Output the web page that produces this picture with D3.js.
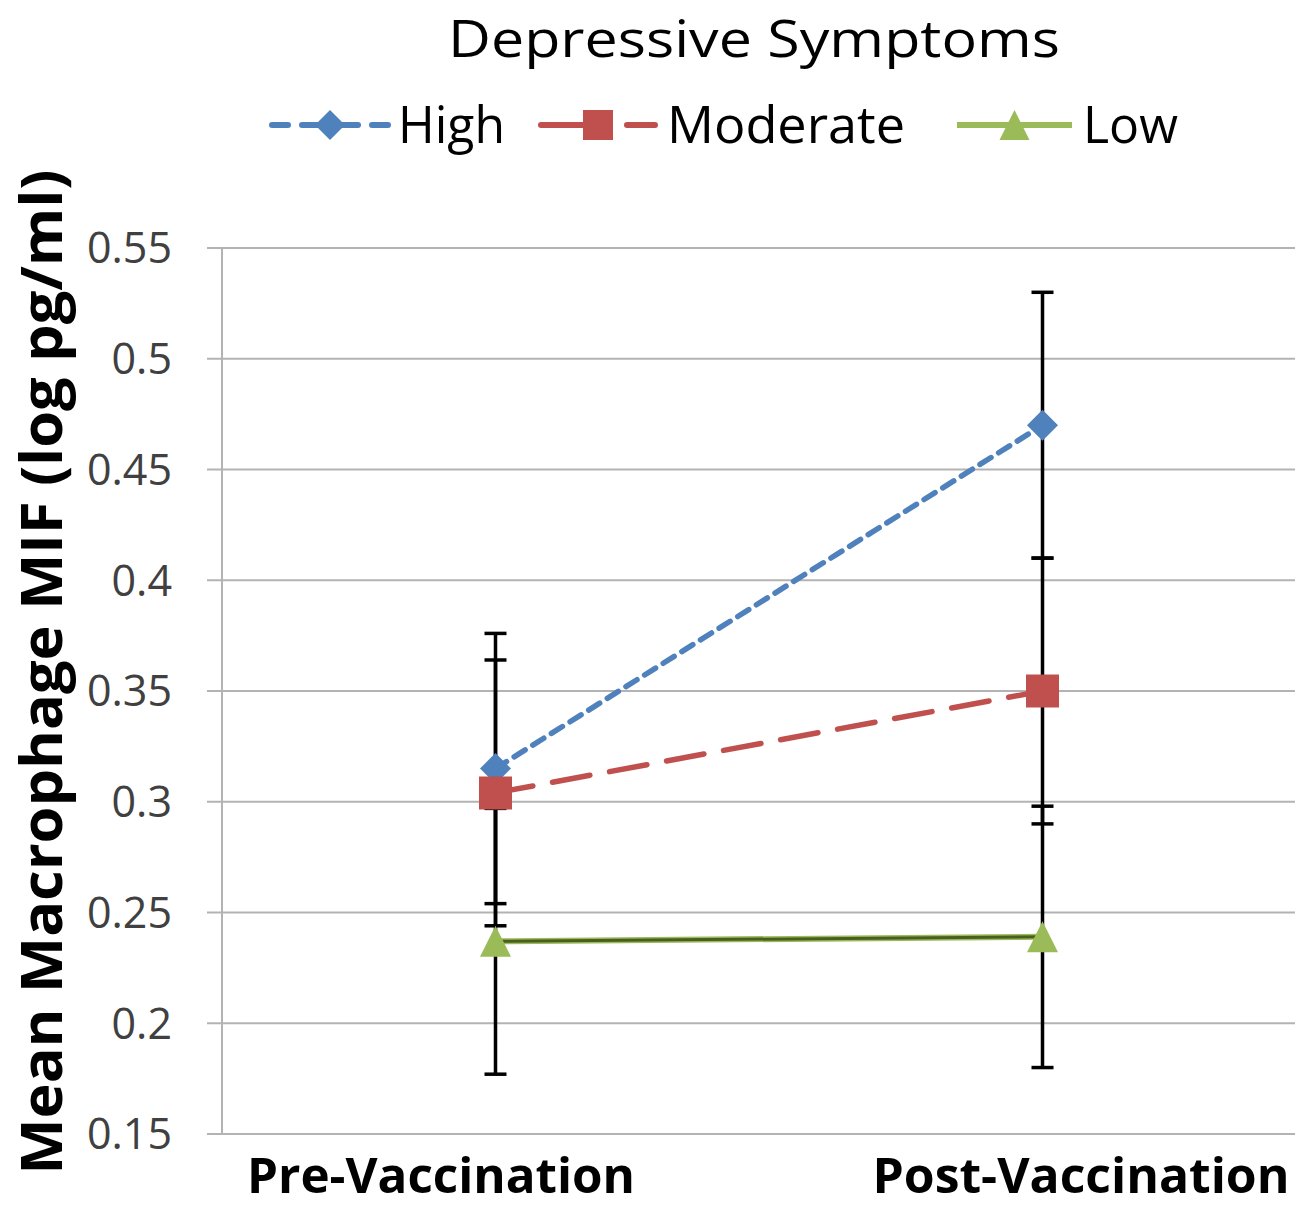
<!DOCTYPE html>
<html><head><meta charset="utf-8">
<script src="https://cdn.jsdelivr.net/npm/d3@7"></script>
<style>body{margin:0;background:#fff}svg{display:block}</style>
</head><body>
<script>
const categories = ["Pre-Vaccination", "Post-Vaccination"];
const seriesNames = ["High", "Moderate", "Low"];
const highValues = [0.315, 0.470];
const moderateValues = [0.304, 0.350];
const lowValues = [0.237, 0.239];
const highErrors = [0.061, 0.060];
const moderateErrors = [0.060, 0.060];
const lowErrors = [0.060, 0.059];
const yTicks = [0.15, 0.2, 0.25, 0.3, 0.35, 0.4, 0.45, 0.5, 0.55];
const yTickLabels = ["0.15", "0.2", "0.25", "0.3", "0.35", "0.4", "0.45", "0.5", "0.55"];
const title = "Depressive Symptoms";
const yTitle = "Mean Macrophage MIF (log pg/ml)";

const W = 1306, H = 1207;
const svg = d3.select("body").append("svg").attr("width", W).attr("height", H);
const font = "'Open Sans', 'DejaVu Sans', sans-serif";

const x = d3.scaleBand().domain(categories).range([222, 1316]).padding(0);
const y = d3.scaleLinear().domain([0.15, 0.55]).range([1134, 248]);
const cx = c => x(c) + x.bandwidth() / 2;
const plotRight = 1295;

const series = [
  {name: seriesNames[0], values: highValues, errors: highErrors, color: "#4f81bd", dash: "13,9", marker: "diamond"},
  {name: seriesNames[1], values: moderateValues, errors: moderateErrors, color: "#c0504d", dash: "38,20", marker: "square"},
  {name: seriesNames[2], values: lowValues, errors: lowErrors, color: "#9bbb59", dash: null, marker: "triangle"}
];

// gridlines
svg.append("g").selectAll("line").data(yTicks).join("line")
  .attr("x1", 207).attr("x2", plotRight)
  .attr("y1", d => y(d)).attr("y2", d => y(d))
  .attr("stroke", "#b3b3b3").attr("stroke-width", 2);
// y axis line
svg.append("line").attr("x1", 222).attr("x2", 222).attr("y1", y(0.55)).attr("y2", y(0.15))
  .attr("stroke", "#b3b3b3").attr("stroke-width", 2);

// tick labels
svg.append("g").selectAll("text").data(yTicks).join("text")
  .attr("x", 172).attr("y", d => y(d)).attr("dy", "0.36em")
  .attr("text-anchor", "end").attr("font-family", font).attr("font-size", 43)
  .attr("fill", "#404040").text((d, i) => yTickLabels[i]);

// error bars
const eb = svg.append("g");
series.forEach(s => {
  categories.forEach((c, i) => {
    const v = s.values[i], e = s.errors[i], xc = cx(c);
    eb.append("line").attr("x1", xc).attr("x2", xc).attr("y1", y(v - e)).attr("y2", y(v + e))
      .attr("stroke", "#000").attr("stroke-width", 3.5);
    [v - e, v + e].forEach(t => {
      eb.append("line").attr("x1", xc - 11).attr("x2", xc + 11).attr("y1", y(t)).attr("y2", y(t))
        .attr("stroke", "#000").attr("stroke-width", 3.5);
    });
  });
});

// lines
const line = d3.line().x((d, i) => cx(categories[i])).y(d => y(d));
series.forEach(s => {
  if (s.marker === "triangle") {
    svg.append("path").attr("d", line(s.values)).attr("fill", "none")
      .attr("stroke", s.color).attr("stroke-width", 6);
    svg.append("path").attr("d", line(s.values)).attr("fill", "none")
      .attr("stroke", "#4a5e22").attr("stroke-width", 3);
  } else {
    svg.append("path").attr("d", line(s.values)).attr("fill", "none")
      .attr("stroke", s.color).attr("stroke-width", 5.5)
      .attr("stroke-dasharray", s.dash).attr("stroke-linecap", "round");
  }
});

function drawMarker(g, type, xc, yc, color, size) {
  const h = size / 2;
  let p;
  if (type === "diamond") p = `M${xc},${yc - h}L${xc + h},${yc}L${xc},${yc + h}L${xc - h},${yc}Z`;
  else if (type === "square") p = `M${xc - h},${yc - h}h${size}v${size}h${-size}Z`;
  else p = `M${xc},${yc - h}L${xc + h},${yc + h}L${xc - h},${yc + h}Z`;
  g.append("path").attr("d", p).attr("fill", color);
}
const mg = svg.append("g");
series.forEach(s => {
  categories.forEach((c, i) => {
    drawMarker(mg, s.marker, cx(c), y(s.values[i]), s.color, s.marker === "square" ? 33 : 31);
  });
});

// title
svg.append("text").attr("x", 754).attr("y", 57).attr("text-anchor", "middle")
  .attr("font-family", font).attr("font-size", 52).attr("fill", "#000")
  .attr("textLength", 612).attr("lengthAdjust", "spacingAndGlyphs").text(title);

// legend
const legend = [
  {x0: 272, x1: 388, tx: 398, tw: 107},
  {x0: 541, x1: 655, tx: 667, tw: 238},
  {x0: 957, x1: 1072, tx: 1083, tw: 95}
];
const ly = 125;
series.forEach((s, i) => {
  const L = legend[i];
  const g = svg.append("g");
  if (s.marker === "triangle") {
    g.append("line").attr("x1", L.x0).attr("x2", L.x1).attr("y1", ly).attr("y2", ly)
      .attr("stroke", s.color).attr("stroke-width", 6);
  } else if (s.marker === "diamond") {
    [[L.x0, L.x0 + 16], [L.x0 + 30, L.x0 + 86], [L.x1 - 16, L.x1]].forEach(([a, b]) =>
      g.append("line").attr("x1", a).attr("x2", b).attr("y1", ly).attr("y2", ly)
        .attr("stroke", s.color).attr("stroke-width", 6).attr("stroke-linecap", "round"));
  } else {
    [[L.x0, L.x0 + 56], [L.x1 - 28, L.x1]].forEach(([a, b]) =>
      g.append("line").attr("x1", a).attr("x2", b).attr("y1", ly).attr("y2", ly)
        .attr("stroke", s.color).attr("stroke-width", 6).attr("stroke-linecap", "round"));
  }
  drawMarker(g, s.marker, (L.x0 + L.x1) / 2, ly, s.color, 30);
  g.append("text").attr("x", L.tx).attr("y", 143).attr("font-family", font).attr("font-size", 52)
    .attr("fill", "#000").attr("textLength", L.tw).attr("lengthAdjust", "spacingAndGlyphs").text(s.name);
});

// x labels
const xLab = [{c: 441, w: 388}, {c: 1081, w: 417}];
categories.forEach((c, i) => {
  svg.append("text").attr("x", xLab[i].c).attr("y", 1193).attr("text-anchor", "middle")
    .attr("font-family", font).attr("font-weight", "bold").attr("font-size", 48).attr("fill", "#000")
    .attr("textLength", xLab[i].w).attr("lengthAdjust", "spacingAndGlyphs").text(c);
});

// y title
svg.append("text").attr("transform", "translate(62,672) rotate(-90)").attr("text-anchor", "middle")
  .attr("font-family", font).attr("font-weight", "bold").attr("font-size", 57).attr("fill", "#000")
  .attr("textLength", 1005).attr("lengthAdjust", "spacingAndGlyphs").text(yTitle);
</script>
</body></html>
